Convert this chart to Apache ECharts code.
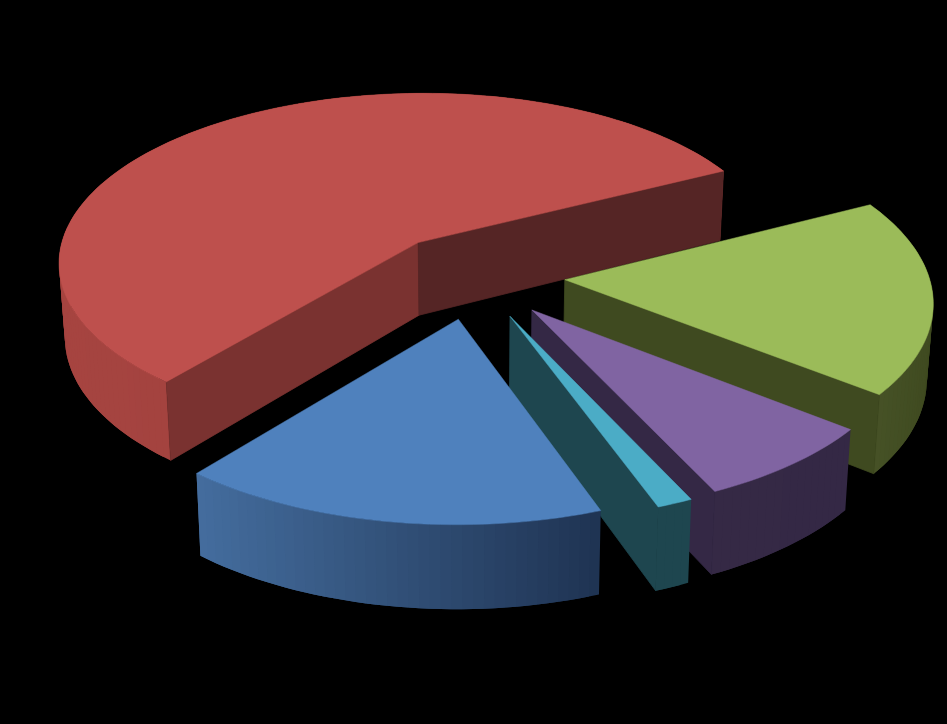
<!DOCTYPE html>
<html>
<head>
<meta charset="utf-8">
<style>html,body{margin:0;padding:0;background:#000}#c{width:947px;height:724px}</style>
<script src="https://cdn.jsdelivr.net/npm/echarts@6/dist/echarts.min.js"></script>
</head>
<body>
<div id="c"></div>
<script>
// Slices, clockwise from the first edge
var categories = ['Green', 'Purple', 'Teal', 'Blue', 'Red'];
var values = [18.1, 7.4, 1.4, 16.55, 56.55];
var topColors = ['#9BBB59', '#8064A2', '#4BACC6', '#4F81BD', '#BE504D'];
var wallColors = [['#475327', '#3F4A20'], ['#352945', '#342845'], ['#1E464F', '#1E464F'], ['#446D9E', '#1F3352'], ['#A64440', '#993F3C']];
var startFaceColors = ['#3F4A20', '#342845', '#1E464F', '#1E464F', '#7A3230'];
var endFaceColors = ['#3F4A20', '#342845', '#1E464F', '#1E464F', '#552525'];
var drawOrder = [4, 0, 1, 2, 3];

// Projection of the tilted disc
var view = { cx: 474, cy: 275.5, rx: 364, ry: 172.5, persp: 0.11, depth: 74, bottomShrink: 0.986, explode: 0.25, startDeg: -27 };

function project(u, v, bottom) {
  var s = 1 / (1 - view.persp * v);
  var x = view.rx * u * s, y = view.ry * v * s;
  if (bottom) { x *= view.bottomShrink; y += view.depth * Math.pow(s, 0.9); }
  return [view.cx + x, view.cy + y];
}

var total = values.reduce(function (a, b) { return a + b; }, 0);
function sliceAngles(i) {
  var before = 0;
  for (var k = 0; k < i; k++) before += values[k];
  var a0 = view.startDeg + before / total * 360;
  return [a0 * Math.PI / 180, (a0 + values[i] / total * 360) * Math.PI / 180];
}

function hexMix(c0, c1, t) {
  var out = '#';
  for (var p = 1; p < 7; p += 2) {
    var a = parseInt(c0.substr(p, 2), 16), b = parseInt(c1.substr(p, 2), 16);
    var m = Math.round(a + (b - a) * t).toString(16);
    out += (m.length < 2 ? '0' : '') + m;
  }
  return out;
}

function renderItem(params, api) {
  var i = api.value(0);
  var ang = sliceAngles(i), a0 = ang[0], a1 = ang[1], mid = (a0 + a1) / 2;
  var ou = view.explode * Math.cos(mid), ov = view.explode * Math.sin(mid);
  var n = Math.max(4, Math.ceil((a1 - a0) / Math.PI * 120));
  var rimTop = [], rimBot = [];
  for (var k = 0; k <= n; k++) {
    var a = a0 + (a1 - a0) * k / n;
    rimTop.push(project(ou + Math.cos(a), ov + Math.sin(a), false));
    rimBot.push(project(ou + Math.cos(a), ov + Math.sin(a), true));
  }
  var apexTop = project(ou, ov, false), apexBot = project(ou, ov, true);
  var poly = function (pts, fill, edge) {
    return { type: 'polygon', shape: { points: pts }, style: edge ? { fill: fill, stroke: fill, lineWidth: edge } : { fill: fill, lineWidth: 0 } };
  };
  var xs = rimTop.map(function (p) { return p[0]; });
  var gx0 = Math.min.apply(null, xs), gx1 = Math.max.apply(null, xs);
  var children = [];
  // Outer wall as overlapping strips: the shade follows the x position
  for (var j = 0; j < n; j++) {
    var e = Math.min(n, j + 2);
    var t = ((rimTop[j][0] + rimTop[j + 1][0]) / 2 - gx0) / (gx1 - gx0);
    children.push(poly([rimTop[j], rimTop[j + 1], rimTop[e], rimBot[e], rimBot[j + 1], rimBot[j]], hexMix(wallColors[i][0], wallColors[i][1], t), 0));
  }
  // Cut faces only when they turn toward the viewer
  if (Math.cos(a0) < 0) children.push(poly([apexTop, rimTop[0], rimBot[0], apexBot], startFaceColors[i], 0.8));
  if (Math.cos(a1) > 0) children.push(poly([apexTop, rimTop[n], rimBot[n], apexBot], endFaceColors[i], 0.8));
  children.push(poly([apexTop].concat(rimTop), topColors[i], 0.5));
  return { type: 'group', children: children };
}

var chart = echarts.init(document.getElementById('c'), null, { renderer: 'canvas' });
chart.setOption({
  backgroundColor: '#000000',
  animation: false,
  series: [{
    type: 'custom',
    coordinateSystem: 'none',
    silent: true,
    renderItem: renderItem,
    dimensions: ['index', 'value'],
    data: drawOrder.map(function (i) { return { name: categories[i], value: [i, values[i]] }; })
  }]
});
</script>
</body>
</html>
